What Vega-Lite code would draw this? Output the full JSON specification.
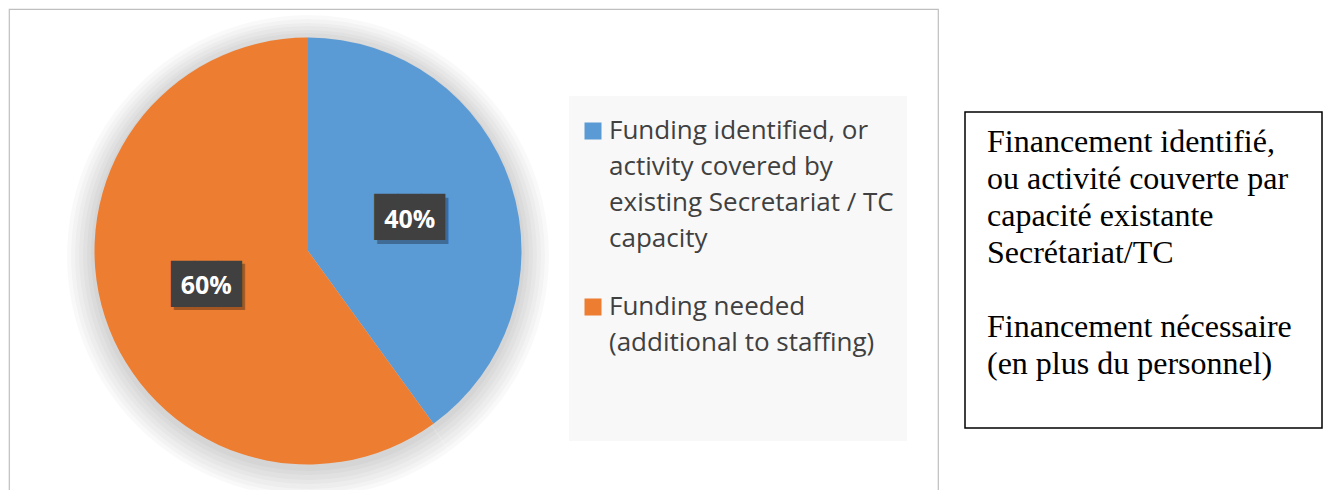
{
  "$schema": "https://vega.github.io/schema/vega-lite/v6.json",
  "padding": {"left": 8, "top": 8, "right": 0, "bottom": 0},
  "background": "white",
  "config": {"view": {"stroke": null}},
  "spacing": 25,
  "hconcat": [
    {
      "width": 929,
      "height": 484,
      "view": {"stroke": "#bfbfbf", "strokeWidth": 1.2, "fill": "white"},
      "data": {
        "values": [
          {"category": "Funding identified, or\nactivity covered by\nexisting Secretariat / TC\ncapacity", "share": 40, "label": "40%"},
          {"category": "Funding needed\n(additional to staffing)", "share": 60, "label": "60%"}
        ]
      },
      "encoding": {
        "theta": {"field": "share", "type": "quantitative", "stack": true},
        "color": {
          "field": "category",
          "type": "nominal",
          "scale": {"range": ["#5b9bd5", "#ed7d31"]},
          "legend": {
            "orient": "none",
            "legendX": 560,
            "legendY": 87,
            "title": " ",
            "titleFontSize": 2,
            "titlePadding": 7,
            "fillColor": "#f8f8f8",
            "padding": 13,
            "symbolType": "square",
            "symbolSize": 289,
            "symbolStrokeWidth": 0,
            "symbolOffset": -2,
            "labelFont": "Open Sans",
            "labelFontSize": 26,
            "labelColor": "#404040",
            "labelLimit": 0,
            "labelOffset": 3,
            "rowPadding": 42,
            "labelExpr": "split(datum.label + (indexof(datum.label, 'needed') >= 0 ? '\\n \\n ' : ''), '\\n')",
            "encode": {"labels": {"update": {"lineHeight": {"value": 36}}}}
          }
        },
        "x": {"datum": 0, "type": "quantitative", "scale": {"domain": [-1.4005, 2.9508], "nice": false, "zero": false}, "axis": null}
      },
      "layer": [
        {"mark": {"type": "arc", "radius": 241, "opacity": 0.025, "yOffset": 5}, "encoding": {"color": {"value": "#000000"}}},
        {"mark": {"type": "arc", "radius": 237, "opacity": 0.025, "yOffset": 5}, "encoding": {"color": {"value": "#000000"}}},
        {"mark": {"type": "arc", "radius": 233, "opacity": 0.025, "yOffset": 5}, "encoding": {"color": {"value": "#000000"}}},
        {"mark": {"type": "arc", "radius": 229, "opacity": 0.025, "yOffset": 4}, "encoding": {"color": {"value": "#000000"}}},
        {"mark": {"type": "arc", "radius": 225, "opacity": 0.025, "yOffset": 4}, "encoding": {"color": {"value": "#000000"}}},
        {"mark": {"type": "arc", "radius": 221, "opacity": 0.025, "yOffset": 3}, "encoding": {"color": {"value": "#000000"}}},
        {"mark": {"type": "arc", "radius": 217, "opacity": 0.025, "yOffset": 3}, "encoding": {"color": {"value": "#000000"}}},
        {"mark": {"type": "arc", "radius": 213.5}},
        {
          "mark": {"type": "text", "radius": 107, "font": "DejaVu Sans Mono", "fontSize": 39, "baseline": "middle", "align": "center", "dx": 3, "dy": 4, "opacity": 0.3},
          "encoding": {"text": {"value": "███"}, "color": {"value": "#000000"}}
        },
        {
          "mark": {"type": "text", "radius": 107, "font": "DejaVu Sans Mono", "fontSize": 39, "baseline": "middle", "align": "center", "dx": 0, "dy": 0.5},
          "encoding": {"text": {"value": "███"}, "color": {"value": "#404040"}}
        },
        {
          "mark": {"type": "text", "radius": 107, "font": "Open Sans", "fontWeight": "bold", "fontSize": 25, "baseline": "middle", "align": "center", "dy": 2},
          "encoding": {"text": {"field": "label"}, "color": {"value": "#ffffff"}}
        }
      ]
    },
    {
      "spacing": 101,
      "vconcat": [
        {"width": 357, "height": 1, "data": {"values": []}, "mark": "point"},
        {
          "width": 357,
          "height": 316,
          "view": {"stroke": "#000000", "strokeWidth": 1.5},
          "data": {"values": [
            {"para": 1, "text": "Financement identifié,\nou activité couverte par\ncapacité existante\nSecrétariat/TC"},
            {"para": 2, "text": "Financement nécessaire\n(en plus du personnel)"}
          ]},
          "mark": {"type": "text", "font": "Liberation Serif", "fontSize": 32, "lineHeight": 37, "align": "left", "baseline": "alphabetic", "lineBreak": "\n", "color": "#000000"},
          "encoding": {
            "text": {"field": "text", "type": "nominal"},
            "x": {"datum": 0.0616, "type": "quantitative", "scale": {"domain": [0, 1], "nice": false, "zero": false}, "axis": null},
            "y": {"field": "para", "type": "quantitative", "scale": {"domain": [2.4919, 0.7838], "nice": false, "zero": false}, "axis": null}
          }
        }
      ]
    }
  ]
}
